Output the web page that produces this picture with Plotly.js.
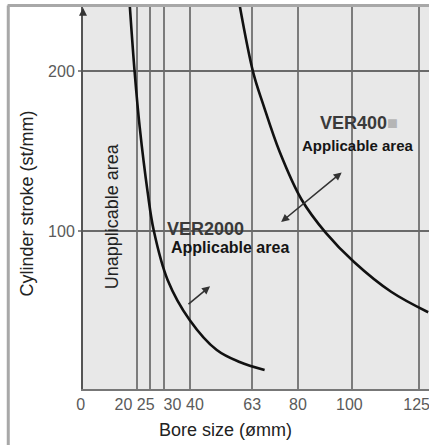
<!DOCTYPE html>
<html>
<head>
<meta charset="utf-8">
<script src="https://cdn.plot.ly/plotly-3.0.1.min.js"></script>
<style>
  html, body { margin: 0; padding: 0; background: #ffffff; }
  #chart { width: 429px; height: 445px; }
</style>
</head>
<body>
<div id="chart"></div>
<script>
// ---- data ----
const boreTicks = [0, 20, 25, 30, 40, 63, 80, 100, 125];
const boreTickLabels = ['0', '20', '25', '30', '40', '63', '80', '100', '125'];
const strokeTicks = [100, 200];
const strokeTickLabels = ['100', '200'];

const ver2000Bore   = [17.4, 19.25, 21.1, 24.1, 26.3, 31.5, 39.7, 49.8, 58.3, 67.6];
const ver2000Stroke = [241.2, 198.8, 165, 123.8, 100.6, 69.4, 44.4, 25.6, 18.1, 13.1];

const ver400Bore   = [58.3, 63.4, 67.1, 73.2, 81.4, 90.4, 100.9, 114.7, 128.5];
const ver400Stroke = [241.2, 198.8, 179, 149.5, 119.5, 98.8, 80.6, 62, 49.2];

const xTitle = 'Bore size (ømm)';
const yTitle = 'Cylinder stroke (st/mm)';
const unapplicableText = 'Unapplicable area';
const ver2000Text = 'VER2000';
const ver400Text = 'VER400';
const applicableText = 'Applicable area';

// ---- layout helpers (styles / placement) ----
const NB = '\u00A0';
const labelPad = [[0,1],[0,6],[0,2],[4,0],[2,0],[0,0],[0,0],[0,1],[0,1]]; // [leading, trailing] nbsp
const paddedLabels = boreTickLabels.map((t, i) => NB.repeat(labelPad[i][0]) + t + NB.repeat(labelPad[i][1]));

const FONT = '"Liberation Sans", Arial, sans-serif';
const gridColor = '#7c7c7c';

const traces = [
  {
    x: ver2000Bore, y: ver2000Stroke, type: 'scatter', mode: 'lines',
    line: { color: '#111', width: 2.6, shape: 'spline', smoothing: 1 },
    hoverinfo: 'skip', showlegend: false
  },
  {
    x: ver400Bore, y: ver400Stroke, type: 'scatter', mode: 'lines',
    line: { color: '#111', width: 2.6, shape: 'spline', smoothing: 1 },
    hoverinfo: 'skip', showlegend: false
  }
];

const arrowStyle = { showarrow: true, arrowcolor: '#333', arrowwidth: 1.6, arrowsize: 1, axref: 'x', ayref: 'y', text: '' };

const layout = {
  width: 429, height: 445,
  margin: { l: 83, r: 0, t: 6, b: 56 },
  paper_bgcolor: '#ffffff',
  plot_bgcolor: '#e8e8e8',
  font: { family: FONT, color: '#222' },
  showlegend: false,
  xaxis: {
    range: [0, 128.8],
    tickmode: 'array', tickvals: boreTicks, ticktext: paddedLabels,
    tickangle: 0,
    showgrid: true, gridcolor: gridColor, gridwidth: 2,
    zeroline: false,
    showline: true, linecolor: '#777', linewidth: 2,
    ticks: '', ticklabelstandoff: 0, ticklabeloverflow: 'allow',
    tickfont: { family: FONT, size: 16, color: '#5a5a5a' },
    fixedrange: true
  },
  yaxis: {
    range: [1.25, 240.6],
    tickmode: 'array', tickvals: strokeTicks, ticktext: strokeTickLabels,
    showgrid: true, gridcolor: '#6a6a6a', gridwidth: 2,
    zeroline: false,
    showline: true, linecolor: '#555', linewidth: 2,
    ticks: 'outside', ticklen: 3, tickcolor: '#888', tickwidth: 2,
    tickfont: { family: FONT, size: 16, color: '#5a5a5a' },
    fixedrange: true
  },
  shapes: [
    // outer frame of the picture (left and top edges)
    { type: 'line', xref: 'paper', yref: 'paper', x0: -0.216, x1: -0.216, y0: 1.001, y1: -0.16,
      line: { color: '#a8a8a8', width: 3 } },
    { type: 'line', xref: 'paper', yref: 'paper', x0: -0.218, x1: 1.0, y0: 1.001, y1: 1.001,
      line: { color: '#a8a8a8', width: 3 } }
  ],
  annotations: [
    { xref: 'paper', yref: 'paper', x: -0.162, y: 0.484, xanchor: 'center', yanchor: 'middle',
      text: yTitle, showarrow: false, textangle: -90,
      font: { family: FONT, size: 18, color: '#222' } },
    { xref: 'paper', yref: 'paper', x: 0.413, y: -0.107, xanchor: 'center', yanchor: 'middle',
      text: xTitle, showarrow: false,
      font: { family: FONT, size: 18, color: '#222' } },
    { x: 10.7, y: 109, text: unapplicableText, showarrow: false, textangle: -90,
      xanchor: 'center', yanchor: 'middle',
      font: { family: FONT, size: 18, color: '#222' } },
    { x: 45.5, y: 101, text: '<b>' + ver2000Text + '</b>', showarrow: false,
      xanchor: 'center', yanchor: 'middle',
      font: { family: FONT, size: 18, color: '#3a3a3a' } },
    { x: 54.6, y: 89.7, text: '<b>' + applicableText + '</b>', showarrow: false,
      xanchor: 'center', yanchor: 'middle',
      font: { family: FONT, size: 16, color: '#151515' } },
    { x: 102.6, y: 167.3, text: '<b>' + ver400Text + '</b><span style="color:#b5b5b5">■</span>', showarrow: false,
      xanchor: 'center', yanchor: 'middle',
      font: { family: FONT, size: 18, color: '#3a3a3a' } },
    { x: 102.5, y: 153.5, text: '<b>' + applicableText + '</b>', showarrow: false,
      xanchor: 'center', yanchor: 'middle',
      font: { family: FONT, size: 15, color: '#151515' } },
    // double arrow near VER400 curve
    Object.assign({ x: 96.3, y: 136.6, ax: 73.2, ay: 104.8, arrowhead: 2, startarrowhead: 2, arrowside: 'end+start', startarrowsize: 1 }, arrowStyle),
    // arrow from VER2000 curve
    Object.assign({ x: 47.3, y: 65.4, ax: 38.7, ay: 53.5, arrowhead: 2 }, arrowStyle),
    // arrow tip at top of y axis
    Object.assign({ x: 0, y: 239.5, ax: 0, ay: 234, arrowhead: 2, arrowcolor: '#111' }, arrowStyle)
  ]
};

Plotly.newPlot('chart', traces, layout, { staticPlot: true, displayModeBar: false });
</script>
</body>
</html>
